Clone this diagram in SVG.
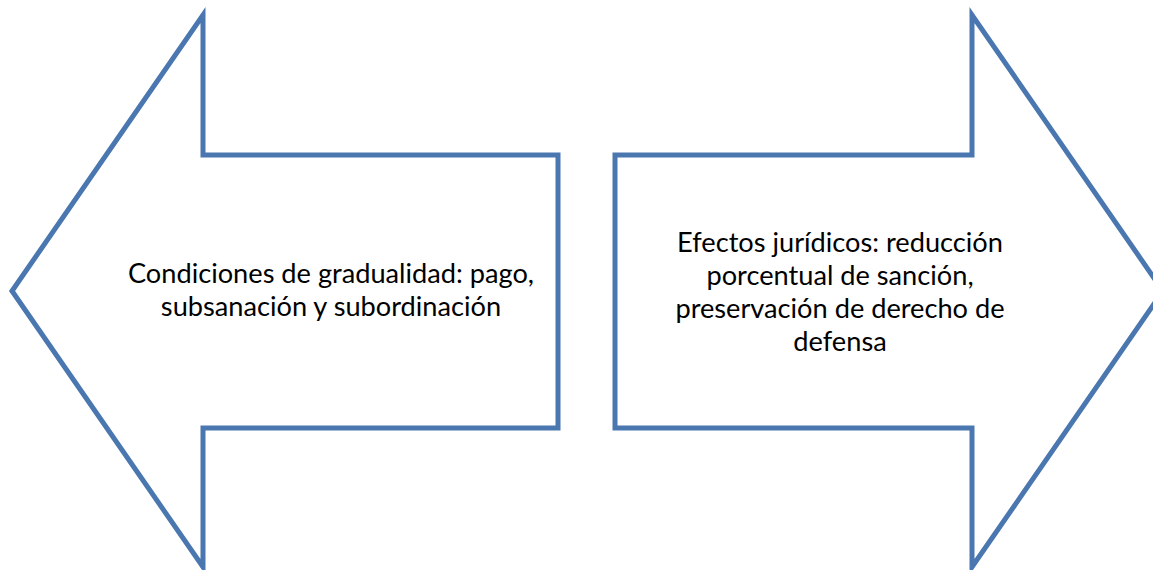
<svg xmlns="http://www.w3.org/2000/svg" width="1153" height="570" viewBox="0 0 1153 570">
<style>
.arrow{fill:#FFFFFF;stroke:#4A77AF;stroke-width:5;stroke-linejoin:miter;stroke-miterlimit:10}
.lbl{font-family:Lato,"Open Sans","Liberation Sans",sans-serif;font-size:27.2px;fill:#000000;text-anchor:middle}
</style>
<rect width="1153" height="570" fill="#FFFFFF"/>
<g id="left-arrow">
<polygon class="arrow" points="12,291 203,15 203,155 558,155 558,428 203,428 203,567"/>
<text class="lbl"><tspan x="331" y="283">Condiciones de gradualidad: pago,</tspan><tspan x="331" y="316">subsanación y subordinación</tspan></text>
</g>
<g id="right-arrow">
<polygon class="arrow" points="1163,291 972,15 972,155 615,155 615,428 972,428 972,567"/>
<text class="lbl"><tspan x="840" y="252">Efectos jurídicos: reducción</tspan><tspan x="840" y="285">porcentual de sanción,</tspan><tspan x="840" y="318">preservación de derecho de</tspan><tspan x="840" y="351">defensa</tspan></text>
</g>
<g id="connectors"></g>
</svg>
